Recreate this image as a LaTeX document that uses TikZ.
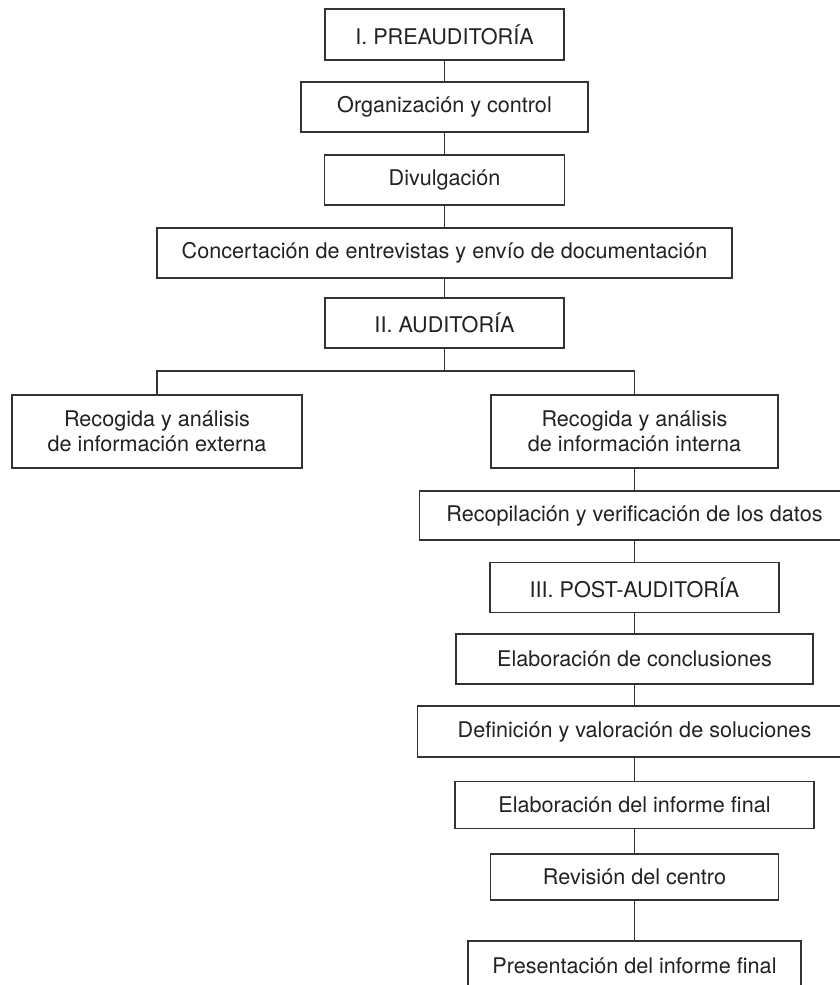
\documentclass[tikz,border=0pt]{standalone}
\usepackage{fontspec}
\setmainfont{TeX Gyre Heros}
\usepackage{xcolor}
\usetikzlibrary{positioning,calc}
\definecolor{lineGray}{HTML}{333333}
\definecolor{textGray}{HTML}{222222}
\tikzset{
  paso/.style 2 args={draw=lineGray, line width=0.7pt, fill=white,
    minimum width=#1*0.5pt, minimum height=#2*0.5pt, inner sep=0pt,
    align=center, text=textGray, font=\fontsize{10.8}{12.3}\selectfont},
  enlace/.style={draw=lineGray, line width=0.7pt}
}
\begin{document}
\begin{tikzpicture}[x=0.5pt,y=-0.5pt]
  \useasboundingbox (0,0) rectangle (840,985);
  \clip (0,0) rectangle (840,985);
  % I. Preauditoria
  \node[paso={239}{51}] (pre)  at (444.5,34.5) {I. PREAUDITORÍA};
  \node[paso={287}{50}] (org)  at (444.5,107)  {Organización y control};
  \node[paso={240}{50}] (div)  at (444.5,180)  {Divulgación};
  \node[paso={575}{50}] (conc) at (444.5,253)  {Concertación de entrevistas y envío de documentación};
  % II. Auditoria
  \node[paso={239}{50}] (aud)  at (444.5,323)  {II. AUDITORÍA};
  \coordinate (split) at (444.5,371);
  \node[paso={290}{73}] (ext)  at (157,431.5)  {Recogida y análisis\\de información externa};
  \node[paso={287}{73}] (int)  at (634.5,431.5) {Recogida y análisis\\de información interna};
  \node[paso={430}{49}] (rec)  at (634.5,515.5) {Recopilación y verificación de los datos};
  % III. Post-auditoria
  \node[paso={289}{50}] (post) at (634.5,587.5) {III. POST-AUDITORÍA};
  \node[paso={357}{50}] (cncl) at (634.5,659)   {Elaboración de conclusiones};
  \node[paso={434}{51}] (def)  at (634.5,731.5) {Definición y valoración de soluciones};
  \node[paso={359}{47}] (inf)  at (634.5,805)   {Elaboración del informe final};
  \node[paso={288}{46}] (rev)  at (634.5,877)   {Revisión del centro};
  \node[paso={333}{50}] (pres) at (634.5,966)   {Presentación del informe final};

  \draw[enlace] (pre) -- (org);
  \draw[enlace] (org) -- (div);
  \draw[enlace] (div) -- (conc);
  \draw[enlace] (conc) -- (aud);
  \draw[enlace] (aud) -- (split);
  \draw[enlace] (ext.north) |- (split) -| (int.north);
  \foreach \a/\b in {int/rec,rec/post,post/cncl,cncl/def,def/inf,inf/rev,rev/pres}
    \draw[enlace] (\a) -- (\b);
\end{tikzpicture}
\end{document}
